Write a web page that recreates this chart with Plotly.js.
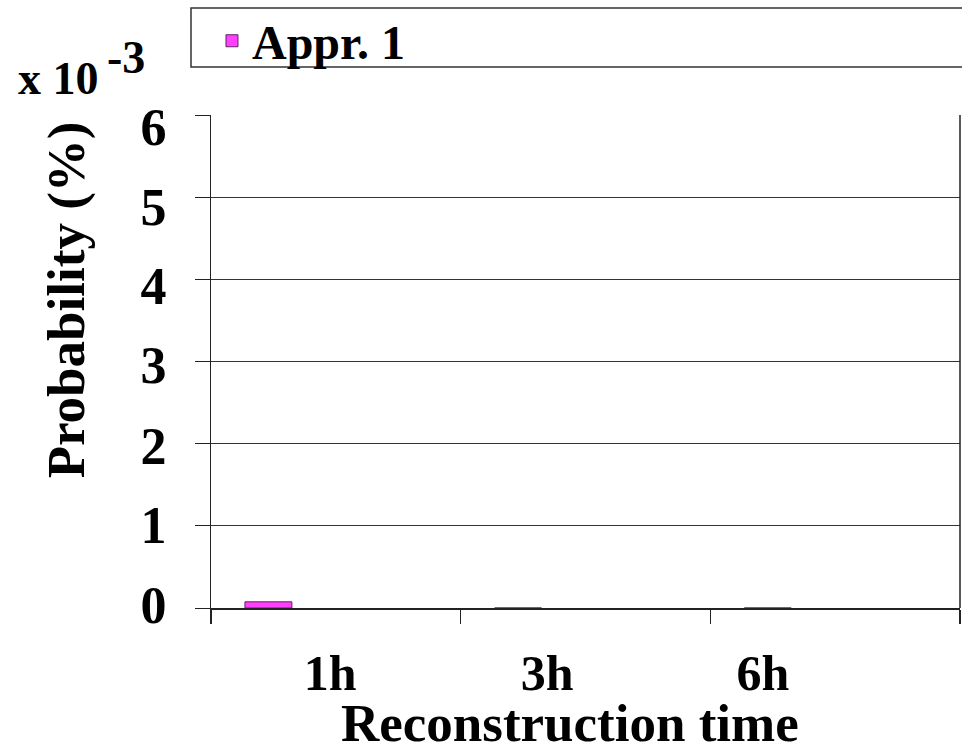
<!DOCTYPE html>
<html>
<head>
<meta charset="utf-8">
<script src="https://cdn.plot.ly/plotly-3.0.1.min.js"></script>
<style>html,body{margin:0;padding:0;background:#fff;}#chart{width:962px;height:749px;}</style>
</head>
<body>
<div id="chart"></div>
<script>
// Data
var categories = ['1h', '3h', '6h'];
var seriesName = 'Appr. 1';
var probValues = [0.075, 0, 0]; // x 10^-3 %
var yTickText = ['0', '1', '2', '3', '4', '5', '6'];
// label positions (as drawn in the reference, slightly off the gridlines)
var yLabelPos = [0.037, 1.010, 1.972, 2.957, 3.919, 4.880, 5.854];
var xLabelPos = [-0.023, 0.846, 1.711];

var FONT = 'Liberation Serif, Times New Roman, serif';

var trace = {
  type: 'bar',
  name: seriesName,
  x: categories,
  y: probValues,
  offset: -0.364,
  width: 0.188,
  marker: {color: '#ff40ff', line: {color: '#602060', width: 1}},
  showlegend: true
};

// empty helper trace so the label axes (x2/y2) get a subplot and are drawn
var labelAxesTrace = {
  type: 'scatter', mode: 'markers', x: [], y: [],
  xaxis: 'x2', yaxis: 'y2', showlegend: false, hoverinfo: 'skip'
};

var layout = {
  width: 962, height: 749,
  margin: {l: 211, r: 2, t: 115, b: 141},
  paper_bgcolor: '#fff', plot_bgcolor: '#fff',
  font: {family: FONT, color: '#000', size: 36, weight: 700},
  showlegend: true,
  legend: {
    x: 0.0013, xanchor: 'left', y: 1.150, yanchor: 'middle',
    bgcolor: 'rgba(0,0,0,0)', borderwidth: 0,
    font: {family: FONT, size: 48, weight: 700, color: '#000'}
  },
  xaxis: {
    type: 'category', range: [-0.5, 2.5], fixedrange: true,
    tickson: 'boundaries', ticks: 'outside', ticklen: 14, tickwidth: 1.5, tickcolor: '#222',
    showline: true, linecolor: '#222', linewidth: 1.5,
    showgrid: false, showticklabels: false, zeroline: false
  },
  xaxis2: {
    overlaying: 'x', anchor: 'y2', type: 'linear', range: [-0.5, 2.5], fixedrange: true,
    tickmode: 'array', tickvals: xLabelPos, ticktext: categories,
    ticks: 'outside', ticklen: 21, tickcolor: 'rgba(0,0,0,0)',
    showgrid: false, showline: false, zeroline: false,
    tickfont: {family: FONT, size: 50, weight: 700, color: '#000'}
  },
  yaxis: {
    range: [0, 6], fixedrange: true, tickmode: 'array', tickvals: [0,1,2,3,4,5,6],
    showticklabels: false, ticks: 'outside', ticklen: 15, tickwidth: 1, tickcolor: '#222',
    showgrid: true, gridcolor: '#333', gridwidth: 1,
    showline: true, linecolor: '#222', linewidth: 1.5, zeroline: false
  },
  yaxis2: {
    overlaying: 'y', anchor: 'x2', side: 'left', range: [0, 6], fixedrange: true,
    tickmode: 'array', tickvals: yLabelPos, ticktext: yTickText,
    ticks: 'outside', ticklen: 33, tickcolor: 'rgba(0,0,0,0)',
    showgrid: false, showline: false, zeroline: false,
    tickfont: {family: FONT, size: 52, weight: 700, color: '#000'}
  },
  shapes: [
    {type: 'line', xref: 'paper', yref: 'paper', x0: 1, x1: 1, y0: 0, y1: 1,
     line: {color: '#222', width: 1.5}},
    {type: 'rect', xref: 'paper', yref: 'paper', x0: -0.0267, x1: 1.05, y0: 1.0974, y1: 1.217,
     line: {color: '#333', width: 1.5}, fillcolor: 'rgba(0,0,0,0)'}
  ],
  annotations: [
    {text: 'Probability (%)', xref: 'paper', yref: 'paper', x: -0.193, y: 0.625,
     textangle: -90, showarrow: false, xanchor: 'center', yanchor: 'middle',
     font: {family: FONT, size: 53, weight: 700, color: '#000'}},
    {text: 'Reconstruction time', xref: 'paper', yref: 'paper', x: 0.479, y: -0.234,
     showarrow: false, xanchor: 'center', yanchor: 'middle',
     font: {family: FONT, size: 53, weight: 700, color: '#000'}},
    {text: 'x 10', xref: 'paper', yref: 'paper', x: -0.203, y: 1.075,
     showarrow: false, xanchor: 'center', yanchor: 'middle',
     font: {family: FONT, size: 46, weight: 700, color: '#000'}},
    {text: '-3', xref: 'paper', yref: 'paper', x: -0.113, y: 1.116,
     showarrow: false, xanchor: 'center', yanchor: 'middle',
     font: {family: FONT, size: 46, weight: 700, color: '#000'}}
  ]
};

Plotly.newPlot('chart', [trace, labelAxesTrace], layout, {displayModeBar: false, staticPlot: true});
</script>
</body>
</html>
